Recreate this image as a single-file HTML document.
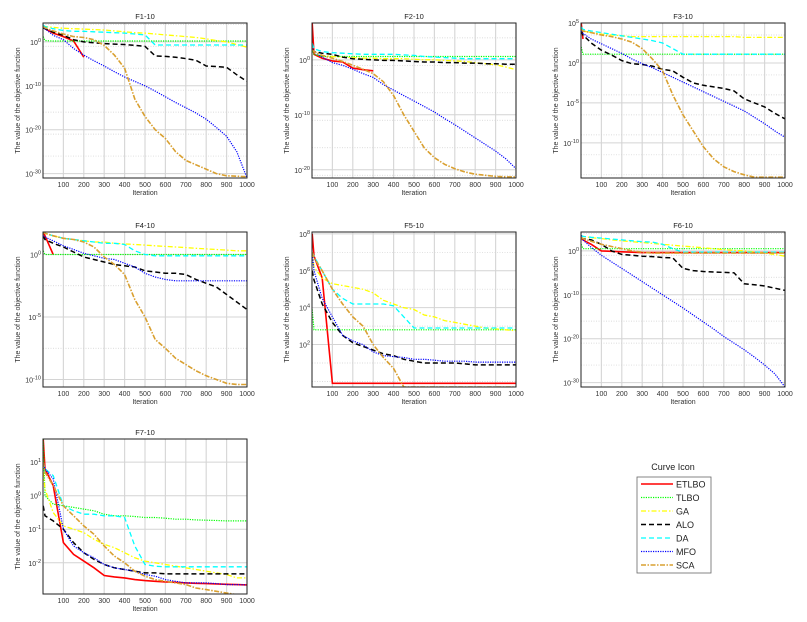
<!DOCTYPE html>
<html><head><meta charset="utf-8"><style>
body{margin:0;background:#fff;}
svg{display:block;font-family:"Liberation Sans",sans-serif;}
</style></head><body>
<svg id="fig" width="807" height="622" viewBox="0 0 807 622"></svg>
<script>
const ITER=[1,10,50,100,150,200,250,300,350,400,450,500,550,600,650,700,750,800,850,900,950,1000];
const SERIES=["ETLBO","TLBO","GA","ALO","DA","MFO","SCA"];
const TITLES=["F1-10","F2-10","F3-10","F4-10","F5-10","F6-10","F7-10"];
const YRANGE=[[4.3,-31],[6.7,-21.5],[5,-14.4],[1.8,-10.6],[8.1,-0.3],[4.3,-31],[1.69,-2.93]];
const YTICKS=[[0,-10,-20,-30],[0,-10,-20],[5,0,-5,-10],[0,-5,-10],[8,6,4,2],[0,-10,-20,-30],[1,0,-1,-2]];
const XTICKS=[100,200,300,400,500,600,700,800,900,1000];
const N=null;
const F1_ETLBO=[3.5,3,2,1.2,0.2,-3.5,N,N,N,N,N,N,N,N,N,N,N,N,N,N,N,N];
const F1_TLBO=[1.2,0.3,0.2,0.2,0.2,0.2,0.2,0.2,0.2,0.2,0.2,0.2,0.2,0.2,0.2,0.2,0.2,0.2,0.2,0.2,0.2,0.2];
const F1_GA=[3.5,3.5,3.3,3.1,3,2.9,2.8,2.7,2.5,2.3,2.1,2,1.8,1.6,1.4,1.2,1,0.7,0.3,0,-0.6,-1.2];
const F1_ALO=[3.2,3,2.2,1.5,0.5,0,-0.2,-0.4,-0.5,-0.6,-0.8,-1,-3.2,-3.3,-3.5,-3.8,-4.2,-5.5,-5.6,-5.8,-7.5,-9];
const F1_DA=[3.8,3.5,3,2.6,2.4,2.4,2.3,2.2,2.1,2,1.8,1.6,-0.7,-0.7,-0.7,-0.7,-0.7,-0.7,-0.7,-0.7,-0.7,-0.7];
const F1_MFO=[3.5,3,1.5,0.5,-1.5,-3,-4.3,-5.5,-6.8,-8,-9,-10,-11.2,-12.5,-13.8,-15,-16.2,-17.6,-19.5,-21.5,-25,-31];
const F1_SCA=[3.5,3.2,2.5,1.8,1.2,1,0.5,-0.8,-3,-6,-13,-17,-20,-22,-25,-27,-28,-29,-30,-30.5,-30.6,-30.7];
const F2_ETLBO=[6.7,1,0.3,-0.2,-0.4,-1.5,-1.8,-2,N,N,N,N,N,N,N,N,N,N,N,N,N,N];
const F2_TLBO=[1.5,1,0.6,0.6,0.6,0.6,0.6,0.6,0.6,0.6,0.6,0.6,0.6,0.6,0.6,0.6,0.6,0.6,0.6,0.6,0.6,0.6];
const F2_GA=[2,1.5,0.8,0.6,0.5,0.4,0.3,0.3,0.2,0.2,0.2,0.1,0,0,-0.1,-0.2,-0.3,-0.5,-0.7,-0.9,-1.3,-1.8];
const F2_ALO=[2,1.5,1.2,1,0.5,0.2,0.1,0,-0.1,-0.1,-0.2,-0.3,-0.4,-0.4,-0.5,-0.5,-0.6,-0.6,-0.7,-0.7,-0.8,-0.8];
const F2_DA=[3,2,1.5,1.3,1.2,1.1,1,1,1,1,0.9,0.8,0.6,0.5,0.4,0.3,0.2,0.2,0.2,0.2,0.2,0.2];
const F2_MFO=[2,1.5,0.5,-0.5,-1,-1.7,-2.5,-3.2,-4.5,-5.5,-6.5,-7.5,-8.5,-9.5,-10.7,-11.8,-13,-14.2,-15.4,-16.6,-18,-19.8];
const F2_SCA=[1.8,1.5,0.8,0.3,-0.3,-1,-1.7,-2.5,-4,-6.5,-10,-13,-16,-17.8,-19,-19.8,-20.4,-20.8,-21,-21.2,-21.3,-21.3];
const F3_ETLBO=[5,3,N,N,N,N,N,N,N,N,N,N,N,N,N,N,N,N,N,N,N,N];
const F3_TLBO=[2,1.1,1.1,1.1,1.1,1.1,1.1,1.1,1.1,1.1,1.1,1.1,1.1,1.1,1.1,1.1,1.1,1.1,1.1,1.1,1.1,1.1];
const F3_GA=[4.5,4,3.8,3.6,3.5,3.4,3.3,3.3,3.3,3.3,3.3,3.3,3.3,3.3,3.3,3.3,3.3,3.2,3.2,3.2,3.2,3.2];
const F3_ALO=[4,3.5,2.5,1.6,1,0.3,-0.1,-0.2,-0.4,-0.8,-1,-1.8,-2.5,-2.8,-3,-3.2,-3.5,-4.5,-5,-5.5,-6.3,-7];
const F3_DA=[4.5,4.2,4,3.8,3.6,3.4,3.2,3,2.8,2.5,1.8,1.1,1.1,1.1,1.1,1.1,1.1,1.1,1.1,1.1,1.1,1.1];
const F3_MFO=[4,3.7,3,2.4,1.8,1.2,0.5,-0.1,-0.6,-1.2,-1.8,-2.4,-3,-3.6,-4.2,-4.8,-5.4,-6,-6.8,-7.6,-8.5,-9.3];
const F3_SCA=[4.2,4,3.8,3.5,3.3,3,2.6,1.8,0.5,-1,-4,-6.5,-8.5,-10.5,-12,-13,-13.6,-14,-14.3,-14.3,-14.3,-14.3];
const F4_ETLBO=[1.8,1.5,0,N,N,N,N,N,N,N,N,N,N,N,N,N,N,N,N,N,N,N];
const F4_TLBO=[0.3,0,0,0,0,0,0,0,0,0,0,0,0,0,0,0,0,0,0,0,0,0];
const F4_GA=[1.8,1.7,1.5,1.3,1.2,1.1,1,1,0.9,0.85,0.8,0.75,0.7,0.65,0.6,0.55,0.5,0.45,0.4,0.35,0.3,0.3];
const F4_ALO=[1.5,1.2,0.9,0.6,0.2,-0.2,-0.4,-0.6,-0.8,-0.9,-1,-1.3,-1.4,-1.5,-1.5,-1.6,-2,-2.3,-2.6,-3.2,-3.8,-4.4];
const F4_DA=[1.8,1.7,1.5,1.3,1.2,1.1,1,0.9,0.9,0.8,0.3,0,-0.1,-0.1,-0.1,-0.1,-0.1,-0.1,-0.1,-0.1,-0.1,-0.1];
const F4_MFO=[1.5,1.4,1.1,0.7,0.4,0.1,-0.1,-0.3,-0.4,-0.7,-1,-1.5,-1.8,-2,-2.1,-2.1,-2.1,-2.1,-2.1,-2.1,-2.1,-2.1];
const F4_SCA=[1.8,1.7,1.5,1.3,1.2,1,0.6,-0.2,-0.8,-1.6,-3.6,-5,-6.8,-7.5,-8.3,-8.8,-9.3,-9.7,-10,-10.3,-10.4,-10.4];
const F5_ETLBO=[8,6.8,5.6,-0.1,-0.1,-0.1,-0.1,-0.1,-0.1,-0.1,-0.1,-0.1,-0.1,-0.1,-0.1,-0.1,-0.1,-0.1,-0.1,-0.1,-0.1,-0.1];
const F5_TLBO=[3.9,2.8,2.8,2.8,2.8,2.8,2.8,2.8,2.8,2.8,2.8,2.8,2.8,2.8,2.8,2.8,2.8,2.8,2.8,2.8,2.8,2.8];
const F5_GA=[7,6.2,5.6,5.3,5.2,5.1,5,4.8,4.4,4.2,4,3.9,3.6,3.5,3.3,3.2,3.1,3,2.9,2.85,2.8,2.75];
const F5_ALO=[6,5.5,4.2,3.2,2.5,2.1,1.9,1.7,1.5,1.4,1.2,1.1,1,1,1,1,0.95,0.9,0.9,0.9,0.9,0.9];
const F5_DA=[7,6.8,6,5,4.5,4.2,4.2,4.2,4.2,4.1,3.5,2.9,2.9,2.9,2.9,2.9,2.9,2.9,2.9,2.9,2.9,2.9];
const F5_MFO=[7,6,4.5,3.5,2.5,2.2,2,1.6,1.4,1.35,1.3,1.2,1.2,1.15,1.1,1.1,1.1,1.05,1.05,1.05,1.05,1.05];
const F5_SCA=[7,6.7,6,5,4.2,3.5,3,2,1.3,0.7,-0.3,-0.3,-0.3,-0.3,-0.3,-0.3,-0.3,-0.3,-0.3,-0.3,-0.3,-0.3];
const F6_ETLBO=[3,2.5,1.5,0,-0.1,-0.2,-0.3,-0.4,-0.4,-0.4,-0.4,-0.4,-0.4,-0.4,-0.4,-0.4,-0.4,-0.4,-0.4,-0.4,-0.4,-0.4];
const F6_TLBO=[1.5,0.5,0.5,0.5,0.5,0.5,0.5,0.5,0.5,0.5,0.5,0.5,0.5,0.5,0.5,0.5,0.5,0.5,0.5,0.5,0.5,0.5];
const F6_GA=[3.5,3.3,3,2.8,2.5,2.3,2.1,1.9,1.7,1.5,1.3,1.1,0.9,0.7,0.5,0.3,0.1,0,-0.2,-0.5,-0.8,-1.2];
const F6_ALO=[3,2.8,2.5,1.5,0,-0.8,-1,-1.2,-1.3,-1.5,-1.6,-4,-4.5,-4.7,-4.8,-4.9,-5,-7.5,-7.7,-8,-8.5,-9];
const F6_DA=[3.5,3.3,3.1,2.9,2.7,2.5,2.3,2.1,2,1.5,0.5,-0.3,-0.3,-0.3,-0.3,-0.3,-0.3,-0.3,-0.3,-0.3,-0.3,-0.3];
const F6_MFO=[3.5,2.5,0.8,-1,-2.5,-4,-5.5,-7,-8.5,-10,-11.5,-13,-14.6,-16.2,-17.8,-19.5,-21,-22.5,-24.2,-26,-28,-31];
const F6_SCA=[3,2.8,2.2,1.5,1,0.5,0,-0.3,-0.5,-0.5,-0.5,-0.5,-0.5,-0.5,-0.5,-0.5,-0.5,-0.5,-0.5,-0.5,-0.5,-0.5];
const F7_ETLBO=[1.7,0.8,0.3,-1.4,-1.75,-1.95,-2.15,-2.38,-2.42,-2.45,-2.5,-2.53,-2.55,-2.57,-2.58,-2.6,-2.61,-2.62,-2.63,-2.64,-2.65,-2.66];
const F7_TLBO=[1.69,0,-0.25,-0.3,-0.35,-0.4,-0.45,-0.55,-0.6,-0.6,-0.62,-0.65,-0.65,-0.67,-0.7,-0.7,-0.72,-0.73,-0.74,-0.75,-0.75,-0.75];
const F7_GA=[0.7,0.2,-0.5,-0.9,-1,-1.1,-1.3,-1.45,-1.55,-1.7,-1.85,-1.95,-2,-2.05,-2.1,-2.15,-2.2,-2.25,-2.3,-2.35,-2.45,-2.45];
const F7_ALO=[-0.3,-0.6,-0.75,-1,-1.4,-1.7,-1.9,-2.05,-2.15,-2.2,-2.25,-2.3,-2.3,-2.33,-2.33,-2.33,-2.33,-2.33,-2.33,-2.33,-2.33,-2.33];
const F7_DA=[1,0.8,0.6,-0.3,-0.45,-0.55,-0.55,-0.6,-0.6,-0.65,-1.5,-2.05,-2.1,-2.12,-2.12,-2.12,-2.12,-2.12,-2.12,-2.12,-2.12,-2.12];
const F7_MFO=[1,0.8,0.5,-1,-1.5,-1.7,-1.85,-2.05,-2.15,-2.2,-2.25,-2.35,-2.4,-2.5,-2.55,-2.6,-2.6,-2.6,-2.62,-2.65,-2.65,-2.66];
const F7_SCA=[1,0.7,0.3,-0.3,-0.6,-0.9,-1.15,-1.5,-1.8,-2,-2.25,-2.4,-2.5,-2.55,-2.6,-2.65,-2.75,-2.8,-2.85,-2.9,-2.95,-2.95];
const PANEL_DATA=[
 [F1_ETLBO,F1_TLBO,F1_GA,F1_ALO,F1_DA,F1_MFO,F1_SCA],
 [F2_ETLBO,F2_TLBO,F2_GA,F2_ALO,F2_DA,F2_MFO,F2_SCA],
 [F3_ETLBO,F3_TLBO,F3_GA,F3_ALO,F3_DA,F3_MFO,F3_SCA],
 [F4_ETLBO,F4_TLBO,F4_GA,F4_ALO,F4_DA,F4_MFO,F4_SCA],
 [F5_ETLBO,F5_TLBO,F5_GA,F5_ALO,F5_DA,F5_MFO,F5_SCA],
 [F6_ETLBO,F6_TLBO,F6_GA,F6_ALO,F6_DA,F6_MFO,F6_SCA],
 [F7_ETLBO,F7_TLBO,F7_GA,F7_ALO,F7_DA,F7_MFO,F7_SCA]];

const BOXES=[[43,23],[312,23],[581,23],[43,232],[312,232],[581,232],[43,439]];
const BW=204,BH=155;
const STYLE=[
 {c:"#ff0000",w:1.6,d:""},
 {c:"#00ff00",w:1.2,d:"1.2 1.2"},
 {c:"#ffff00",w:1.3,d:"5 2 1.5 2"},
 {c:"#000000",w:1.5,d:"5 3"},
 {c:"#00ffff",w:1.3,d:"5 3"},
 {c:"#0000ff",w:1.2,d:"1.2 1.2"},
 {c:"#d9a030",w:1.6,d:"5 1.5 1.5 1.5"}];
const NS="http://www.w3.org/2000/svg";
const svg=document.getElementById("fig");
function el(tag,attrs,parent){const e=document.createElementNS(NS,tag);for(const k in attrs)e.setAttribute(k,attrs[k]);(parent||svg).appendChild(e);return e;}

PANEL_DATA.forEach((data,p)=>{
  const [bx,by]=BOXES[p];
  const [ymax,ymin]=YRANGE[p];
  const xs=v=>bx+v/1000*BW;
  const ys=v=>by+(ymax-v)/(ymax-ymin)*BH;
  const g=el("g",{});
  
  
  const cp=el("clipPath",{id:"cp"+p},g);
  el("rect",{x:bx,y:by,width:BW,height:BH},cp);
  XTICKS.forEach(t=>{
    const l=el("line",{x1:xs(t),x2:xs(t),y1:by,y2:by+BH,stroke:"#d8d8d8","stroke-width":1.2},g);
    
    
    const tx=el("text",{x:xs(t),y:by+BH+9,"font-size":7,"text-anchor":"middle",fill:"#333"},g);
    tx.textContent=t;
    
    
  });
  const yt=YTICKS[p];
  const step=yt.length>1?(yt[0]-yt[1]):1;
  const mstep=step>=5?step/2:1;
  for(let v=Math.ceil(ymin);v<=ymax;v+=mstep){
    if(yt.includes(v))continue;
    const l=el("line",{x1:bx,x2:bx+BW,y1:ys(v),y2:ys(v),stroke:"#d0d0d0","stroke-width":0.7,"stroke-dasharray":"1 1.5"},g);
    
    
  }
  yt.forEach(v=>{
    const l=el("line",{x1:bx,x2:bx+BW,y1:ys(v),y2:ys(v),stroke:"#d4d4d4","stroke-width":1},g);
    
    
    const tx=el("text",{x:bx-2,y:ys(v)+3,"font-size":7,"text-anchor":"end",fill:"#333"},g);
    
    
    const a=el("tspan",{},tx);a.textContent="10";
    const b=el("tspan",{dy:-3,"font-size":5.5},tx);b.textContent=String(v);
  });
  data.forEach((vals,s)=>{
    let d="";let pen=false;
    vals.forEach((v,i)=>{
      if(v===null){pen=false;return;}
      d+=(pen?"L":"M")+xs(ITER[i]).toFixed(1)+" "+ys(v).toFixed(1)+" ";pen=true;
    });
    const st=STYLE[s];
    const path=el("path",{d:d,fill:"none",stroke:st.c,"stroke-width":st.w,"stroke-dasharray":st.d,"clip-path":"url(#cp"+p+")"},g);
    
    
  });
  const fr=el("rect",{x:bx,y:by,width:BW,height:BH,fill:"none",stroke:"#222","stroke-width":1},g);
  
  
  const ti=el("text",{x:bx+BW/2,y:by-4,"font-size":7.5,"text-anchor":"middle",fill:"#222"},g);
  ti.textContent=TITLES[p];
  
  
  const xl=el("text",{x:bx+BW/2,y:by+BH+17,"font-size":7,"text-anchor":"middle",fill:"#333"},g);
  xl.textContent="Iteration";
  
  
  const yl=el("text",{x:0,y:0,"font-size":7,"text-anchor":"middle",fill:"#333",transform:`translate(${bx-23},${by+BH/2}) rotate(-90)`},g);
  yl.textContent="The value of the objective function";
  
  
});

const lg=el("g",{});


const lt=el("text",{x:673,y:470,"font-size":9,"text-anchor":"middle",fill:"#222"},lg);
lt.textContent="Curve Icon";


const lb=el("rect",{x:637,y:477,width:74,height:96,fill:"#fff",stroke:"#666","stroke-width":0.8},lg);


SERIES.forEach((name,s)=>{
  const y=484+s*13.5;const st=STYLE[s];
  const ent=el("g",{},lg);
  
  
  el("line",{x1:641,x2:673,y1:y,y2:y,stroke:st.c,"stroke-width":st.w,"stroke-dasharray":st.d},ent);
  const t=el("text",{x:676,y:y+3.5,"font-size":9,fill:"#222"},ent);
  t.textContent=name;
});
</script>
</body></html>
